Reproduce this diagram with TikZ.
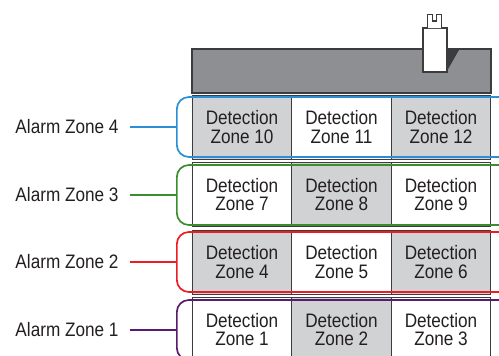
\documentclass[tikz,border=0pt]{standalone}
\usepackage{fontspec}
\setmainfont[FakeStretch=0.88]{Liberation Sans}
\usetikzlibrary{positioning}
\definecolor{frame}{HTML}{3C3C3E}
\definecolor{ink}{HTML}{231F20}
\definecolor{cellgray}{HTML}{D1D2D4}
\definecolor{headgray}{HTML}{8E8F92}
\definecolor{zblue}{HTML}{2A8FD4}
\definecolor{zgreen}{HTML}{3B8D2D}
\definecolor{zred}{HTML}{ED1C24}
\definecolor{zpurple}{HTML}{5C1A6E}
\tikzset{
  cell/.style={draw=frame, line width=1.3pt, minimum width=99.5pt, minimum height=64pt,
    inner sep=0pt, align=center, text=ink, font=\fontsize{19.5}{18.5}\selectfont},
  grey/.style={cell, fill=cellgray},
  blank/.style={cell, fill=white},
  alarmlabel/.style={text=ink, inner xsep=11pt, inner ysep=0pt, font=\fontsize{19.5}{19}\selectfont},
  zonebox/.style={line width=1.7pt, rounded corners=12pt, minimum width=334pt,
    minimum height=60pt, anchor=west, inner sep=0pt},
  link/.style={line width=2pt},
}
\begin{document}
\begin{tikzpicture}[x=1pt,y=-1pt]
  \useasboundingbox (0,0) rectangle (499,356);
  \clip (0,0) rectangle (499,356);
  % panel top with plug
  \draw[frame, fill=headgray, line width=1.3pt] (192,49) rectangle (491,93);
  \fill[frame] (447,49) -- (459.5,49) -- (447,71) -- cycle;
  \draw[frame, fill=white, line width=1.3pt] (423,28) rectangle (447,72);
  \draw[frame, fill=white, line width=1.2pt]
    (427.5,28) -- (427.5,14.5) -- (432.5,14.5) -- (432.5,21) -- (436.5,21)
    -- (436.5,14.5) -- (441.5,14.5) -- (441.5,28);
  % detection zones
  \node[grey]  (d10) at (242,127.25)   {Detection\\Zone 10};
  \node[blank] (d11) at (341.5,127.25) {Detection\\Zone 11};
  \node[grey]  (d12) at (441,127.25)   {Detection\\Zone 12};
  \node[blank] (d7)  at (242,194.75)   {Detection\\Zone 7};
  \node[grey]  (d8)  at (341.5,194.75) {Detection\\Zone 8};
  \node[blank] (d9)  at (441,194.75)   {Detection\\Zone 9};
  \node[grey]  (d4)  at (242,262.25)   {Detection\\Zone 4};
  \node[blank] (d5)  at (341.5,262.25) {Detection\\Zone 5};
  \node[grey]  (d6)  at (441,262.25)   {Detection\\Zone 6};
  \node[blank] (d1)  at (242,329.75)   {Detection\\Zone 1};
  \node[grey]  (d2)  at (341.5,329.75) {Detection\\Zone 2};
  \node[blank] (d3)  at (441,329.75)   {Detection\\Zone 3};
  % alarm zones
  \node[zonebox, draw=zblue]   (a4) at (176,127) {};
  \node[zonebox, draw=zgreen]  (a3) at (176,195) {};
  \node[zonebox, draw=zred]    (a2) at (176,262) {};
  \node[zonebox, draw=zpurple] (a1) at (176,330) {};
  \node[alarmlabel] (l4) at (67,127) {Alarm Zone 4};
  \node[alarmlabel] (l3) at (67,195) {Alarm Zone 3};
  \node[alarmlabel] (l2) at (67,262) {Alarm Zone 2};
  \node[alarmlabel] (l1) at (67,330) {Alarm Zone 1};
  \draw[link, zblue]   (l4.east) -- (a4.west);
  \draw[link, zgreen]  (l3.east) -- (a3.west);
  \draw[link, zred]    (l2.east) -- (a2.west);
  \draw[link, zpurple] (l1.east) -- (a1.west);
\end{tikzpicture}
\end{document}
